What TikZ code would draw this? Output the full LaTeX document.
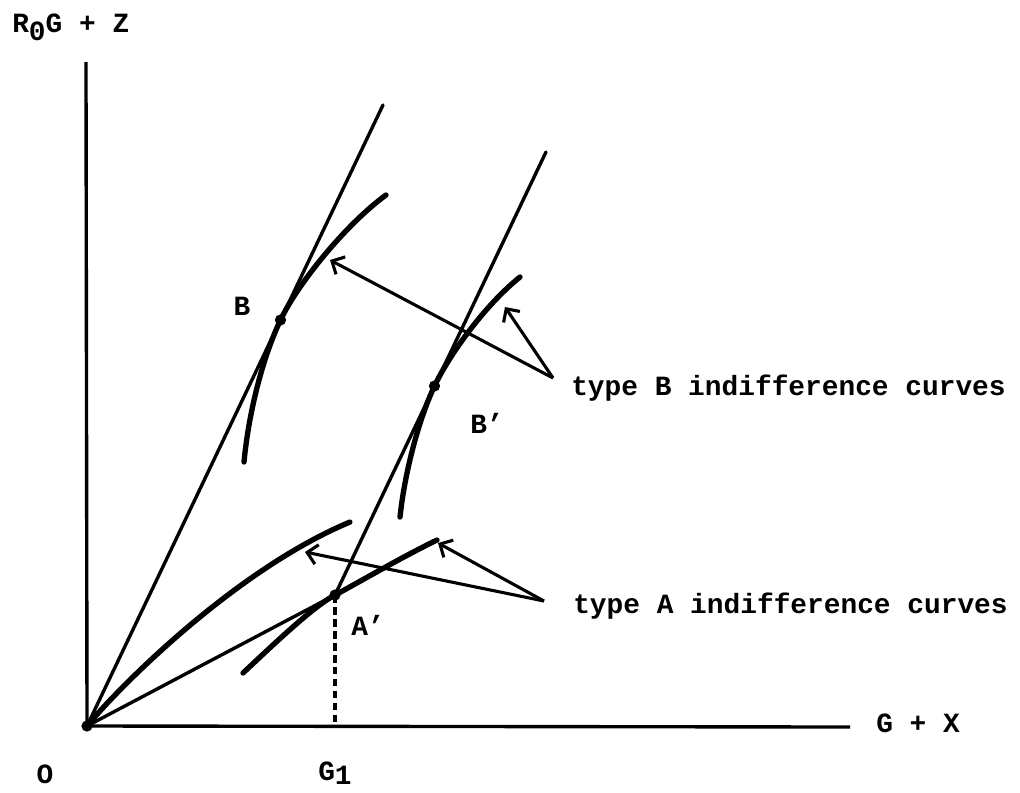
\documentclass[tikz,border=0pt]{standalone}
\usepackage{fontspec}
\setmainfont{Liberation Mono}
\usetikzlibrary{arrows.meta}
\begin{document}
\begin{tikzpicture}[x=0.025cm,y=-0.025cm,
  lbl/.style={font=\fontsize{19.8}{22}\selectfont\bfseries, inner sep=0pt},
  axis/.style={line width=2.4pt},
  ray/.style={line width=2.4pt, line cap=round},
  icurve/.style={line width=3.8pt, line cap=round},
  pointer/.style={line width=2.2pt, line join=round, -{Straight Barb[length=7pt,width=14pt,line width=2.2pt]}},
  dot/.style={circle, fill, inner sep=0pt, minimum size=8pt},
  drop/.style={line width=2.2pt, dash pattern=on 5.5pt off 3pt}]
\useasboundingbox (0,0) rectangle (1020,792);

% axes
\coordinate (O) at (87,726);
\coordinate (Ytop) at (86,62);
\coordinate (Xend) at (850,727);
\draw[axis] (Ytop) -- (O) -- (Xend);

% key points
\coordinate (T1) at (383,105);
\coordinate (Ap) at (335,595);
\coordinate (T2) at (546,152);
\coordinate (B) at (280.5,320);
\coordinate (Bp) at (434.5,386);
\coordinate (G1) at (335,726);

% rays
\draw[ray] (O) -- (T1);
\draw[ray] (O) -- (Ap);
\draw[ray] (Ap) -- (T2);
\draw[drop] (Ap) -- (G1);

% type B indifference curves
\draw[icurve] (244,462) .. controls (249,410) and (263.3,356.1) .. (B)
  .. controls (297.7,283.9) and (345,225) .. (386,195);
\draw[icurve] (400,517) .. controls (405,470) and (419.5,417.6) .. (Bp)
  .. controls (449.5,354.4) and (485,305) .. (520,277);

% type A indifference curves
\draw[icurve] (O) .. controls (118,688) and (235,570) .. (350,522);
\draw[icurve] (243,673) .. controls (275,643) and (312.9,606.7) .. (Ap)
  .. controls (357.1,583.3) and (400,558) .. (437,540);

% dots
\node[dot] (dO) at (O) {};
\node[dot] (dB) at (B) {};
\node[dot] (dBp) at (Bp) {};
\node[dot] (dAp) at (Ap) {};

% pointers
\coordinate (JB) at (553,378);
\coordinate (tB1) at (330,260);
\coordinate (tB2) at (505,307);
\draw[pointer] (JB) -- (tB1);
\draw[pointer] (JB) -- (tB2);
\coordinate (JA) at (544,601);
\coordinate (tA1) at (305,552);
\coordinate (tA2) at (438,543);
\draw[pointer] (JA) -- (tA1);
\draw[pointer] (JA) -- (tA2);

% labels
\node[lbl, anchor=base west] (ylab) at (12,32) {R\raisebox{-6pt}{0}G + Z};
\node[lbl, anchor=base west] (xlab) at (876,732) {G + X};
\node[lbl] (olab) at (45,774) {O};
\node[lbl, anchor=base west] (g1lab) at (318,780) {G\raisebox{-3.5pt}{1}};
\node[lbl] (blab) at (242,306) {B};
\node[lbl, anchor=base west] (bplab) at (470,433) {B’};
\node[lbl, anchor=base west] (aplab) at (351,635) {A’};
\node[lbl, anchor=base west] (tBlab) at (571,395) {type B indifference curves};
\node[lbl, anchor=base west] (tAlab) at (573,613) {type A indifference curves};
\end{tikzpicture}
\end{document}
